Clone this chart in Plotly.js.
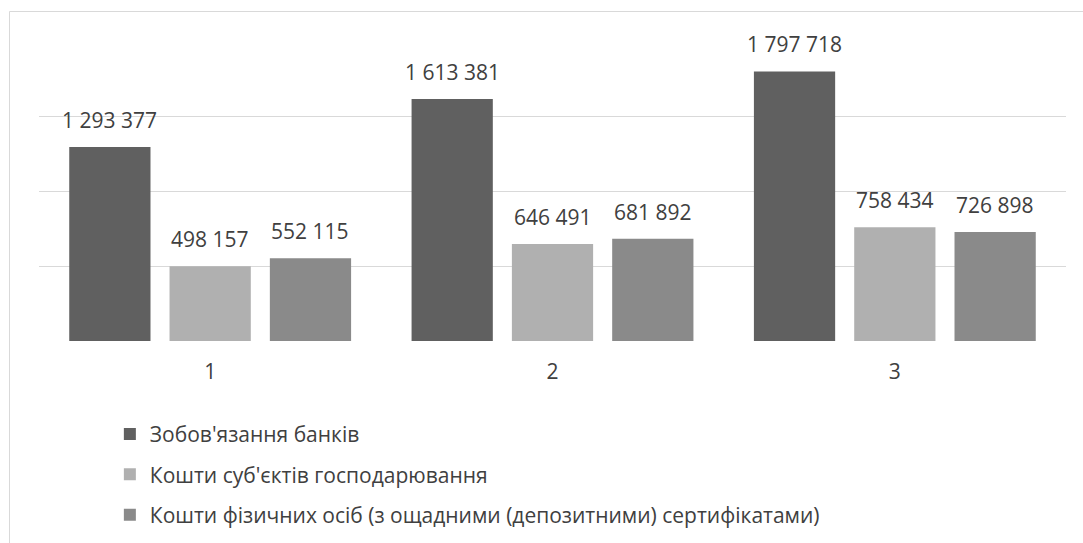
<!DOCTYPE html>
<html>
<head>
<meta charset="utf-8">
<script src="https://cdn.plot.ly/plotly-3.0.1.min.js"></script>
<style>
  html, body { margin: 0; padding: 0; background: #ffffff; }
  #chart { width: 1083px; height: 543px; }
</style>
</head>
<body>
<div id="chart"></div>
<script>
// Categories (periods) on the x axis
const categories = ['1', '2', '3'];

// Series names
const seriesNames = [
  "Зобов'язання банків",
  "Кошти суб'єктів господарювання",
  "Кошти фізичних осіб (з ощадними (депозитними) сертифікатами)"
];

// Series values
const bankLiabilities = [1293377, 1613381, 1797718];
const businessFunds = [498157, 646491, 758434];
const householdFunds = [552115, 681892, 726898];

const seriesValues = [bankLiabilities, businessFunds, householdFunds];
const seriesColors = ['#606060', '#b0b0b0', '#8a8a8a'];

const W = 1083, H = 543;
const margin = { l: 39, r: 17, t: 41, b: 202, autoexpand: false };
const bargap = 0.121;
const bargroupgap = 0.19;
const fontFamily = 'Open Sans, Noto Sans, sans-serif';
const textColor = '#404040';

// Thousands separated by spaces, e.g. 1 293 377
function fmt(v) {
  return String(v).replace(/\B(?=(\d{3})+(?!\d))/g, ' ');
}

const traces = seriesValues.map((vals, i) => ({
  type: 'bar',
  name: seriesNames[i],
  x: categories,
  y: vals,
  legendgroup: 'g' + i,
  marker: { color: seriesColors[i], line: { width: 0 } },
  hoverinfo: 'x+y+name'
}));

// Value labels above each bar, offset to the bar's slot within its group.
// On a category axis annotations take the category's serial index.
const plotWidth = W - margin.l - margin.r;
const plotHeight = H - margin.t - margin.b;
const catWidth = plotWidth / categories.length;
const slot = catWidth * (1 - bargap) / seriesValues.length;
const annotations = [];
seriesValues.forEach((vals, i) => {
  const offset = (i - (seriesValues.length - 1) / 2) * slot;
  vals.forEach((v, j) => {
    annotations.push({
      x: j, y: v, xref: 'x', yref: 'y',
      text: fmt(v), showarrow: false,
      xanchor: 'center', yanchor: 'bottom',
      xshift: offset, yshift: 11,
      font: { family: fontFamily, size: 21, color: textColor }
    });
  });
});

const layout = {
  width: W, height: H,
  margin: margin,
  paper_bgcolor: '#ffffff',
  plot_bgcolor: '#ffffff',
  barmode: 'group',
  bargap: bargap,
  bargroupgap: bargroupgap,
  font: { family: fontFamily, size: 21, color: textColor },
  xaxis: {
    type: 'category',
    range: [-0.5, categories.length - 0.5],
    showgrid: false, zeroline: false, showline: false,
    ticks: '', ticklabelstandoff: 16,
    tickfont: { family: fontFamily, size: 21, color: textColor },
    fixedrange: true
  },
  yaxis: {
    // a hair above 2 000 000 so the top gridline is kept
    range: [0, 2000500], dtick: 500000, tick0: 0,
    showgrid: true, gridcolor: '#d9d9d9', gridwidth: 1,
    zeroline: false, showline: false, showticklabels: false, ticks: '',
    fixedrange: true
  },
  showlegend: true,
  legend: {
    orientation: 'v',
    x: 0.069, xanchor: 'left',
    y: -0.243, yanchor: 'top',
    traceorder: 'grouped', tracegroupgap: 10,
    font: { family: fontFamily, size: 21, color: textColor },
    bgcolor: 'rgba(0,0,0,0)', borderwidth: 0
  },
  annotations: annotations,
  shapes: [{
    type: 'rect', xref: 'paper', yref: 'paper',
    x0: (9.5 - margin.l) / plotWidth, x1: 1.1,
    y0: -0.8, y1: (plotHeight + margin.t - 11.5) / plotHeight,
    line: { color: '#d9d9d9', width: 1 },
    fillcolor: 'rgba(0,0,0,0)', layer: 'below'
  }]
};

Plotly.newPlot('chart', traces, layout, { displayModeBar: false, staticPlot: true });
</script>
</body>
</html>
